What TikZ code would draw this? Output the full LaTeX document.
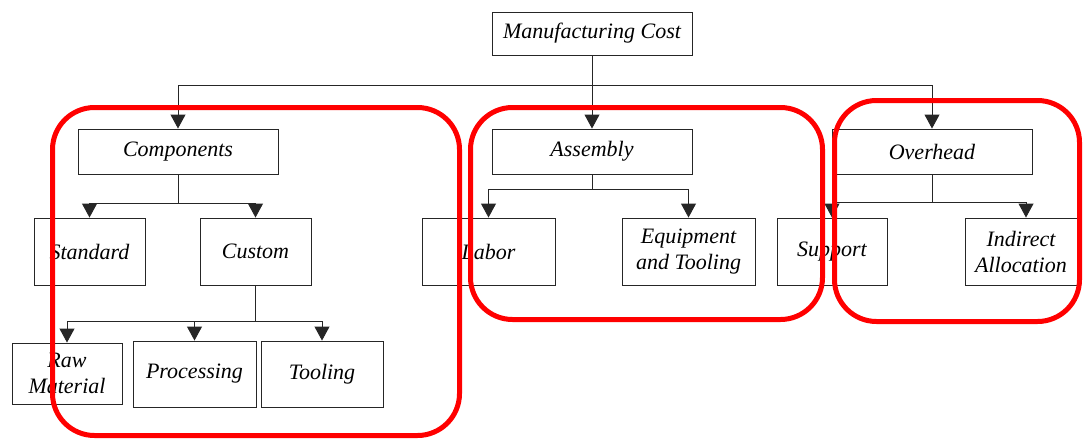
\documentclass[tikz,border=0pt]{standalone}
\usepackage{fontspec}
\setmainfont{Liberation Serif}
\usepackage{tikz}
\usetikzlibrary{arrows.meta}
\pgfdeclarelayer{bg}
\pgfsetlayers{bg,main}
\tikzset{
    box/.style={rectangle, draw=black!85, line width=0.9pt, inner sep=0mm, align=center,
        font=\itshape\fontsize{22}{26}\selectfont},
    wide/.style={box, minimum width=200pt, minimum height=45pt},
    arr/.style={-{Triangle[width=15pt,length=14pt]}},
    link/.style={draw=black!85, line width=0.9pt},
    groupframe/.style={draw=red, line width=5pt, rounded corners=42pt}
}

\begin{document}
\begin{tikzpicture}[x=1pt, y=-1pt]
        \useasboundingbox (0,0) rectangle (1083,439);
        \node (mc) [box, minimum width=200pt, minimum height=43pt] at (592, 33.5) {Manufacturing Cost};
        \node (comp) [wide] at (178, 151.5) {Components};
        \node (asm) [wide] at (592, 151.5) {Assembly};
        \node (ovh) [wide] at (932, 151.5) {Overhead};
        \node (std) [box, minimum width=111pt, minimum height=67pt] at (89.5, 251.5) {Standard};
        \node (cus) [box, minimum width=111pt, minimum height=67pt] at (255.5, 251.5) {Custom};
        \node (lab) [box, minimum width=133pt, minimum height=67pt] at (488.5, 251.5) {Labor};
        \node (eqp) [box, minimum width=133pt, minimum height=67pt] at (688.5, 251.5) {Equipment\\and Tooling};
        \node (sup) [box, minimum width=110pt, minimum height=67pt] at (832, 251.5) {Support};
        \node (ind) [box, minimum width=112pt, minimum height=67pt] at (1021, 251.5) {Indirect\\Allocation};
        \node (raw) [box, minimum width=110pt, minimum height=61pt] at (67, 373.5) {Raw\\Material};
        \node (prc) [box, minimum width=123pt, minimum height=66pt] at (194.5, 374) {Processing};
        \node (tol) [box, minimum width=122pt, minimum height=66pt] at (322, 374) {Tooling};
        \coordinate (j0) at (592, 85);
        \coordinate (j1) at (178, 203);
        \coordinate (j2) at (592, 189);
        \coordinate (j3) at (932, 202);
        \coordinate (j4) at (255.5, 321);
        \begin{pgfonlayer}{bg}
                \draw [link] (mc) -- (j0);
                \draw [link, arr] (j0) -| (comp);
                \draw [link, arr] (j0) -| (asm);
                \draw [link, arr] (j0) -| (ovh);
                \draw [link] (comp) -- (j1);
                \draw [link, arr] (j1) -| (std);
                \draw [link, arr] (j1) -| (cus);
                \draw [link] (asm) -- (j2);
                \draw [link, arr] (j2) -| (lab);
                \draw [link, arr] (j2) -| (eqp);
                \draw [link] (ovh) -- (j3);
                \draw [link, arr] (j3) -| (sup);
                \draw [link, arr] (j3) -| ([xshift=5pt]ind.north);
                \draw [link] (cus) -- (j4);
                \draw [link, arr] (j4) -| (raw);
                \draw [link, arr] (j4) -| (prc);
                \draw [link, arr] (j4) -| (tol);
        \end{pgfonlayer}
        \draw [groupframe] (52.5, 107.5) rectangle (459.5, 435.5);
        \draw [groupframe] (470.5, 107.5) rectangle (822.5, 319.5);
        \draw [groupframe] (834.5, 100.5) rectangle (1079.5, 321.5);
\end{tikzpicture}
\end{document}
